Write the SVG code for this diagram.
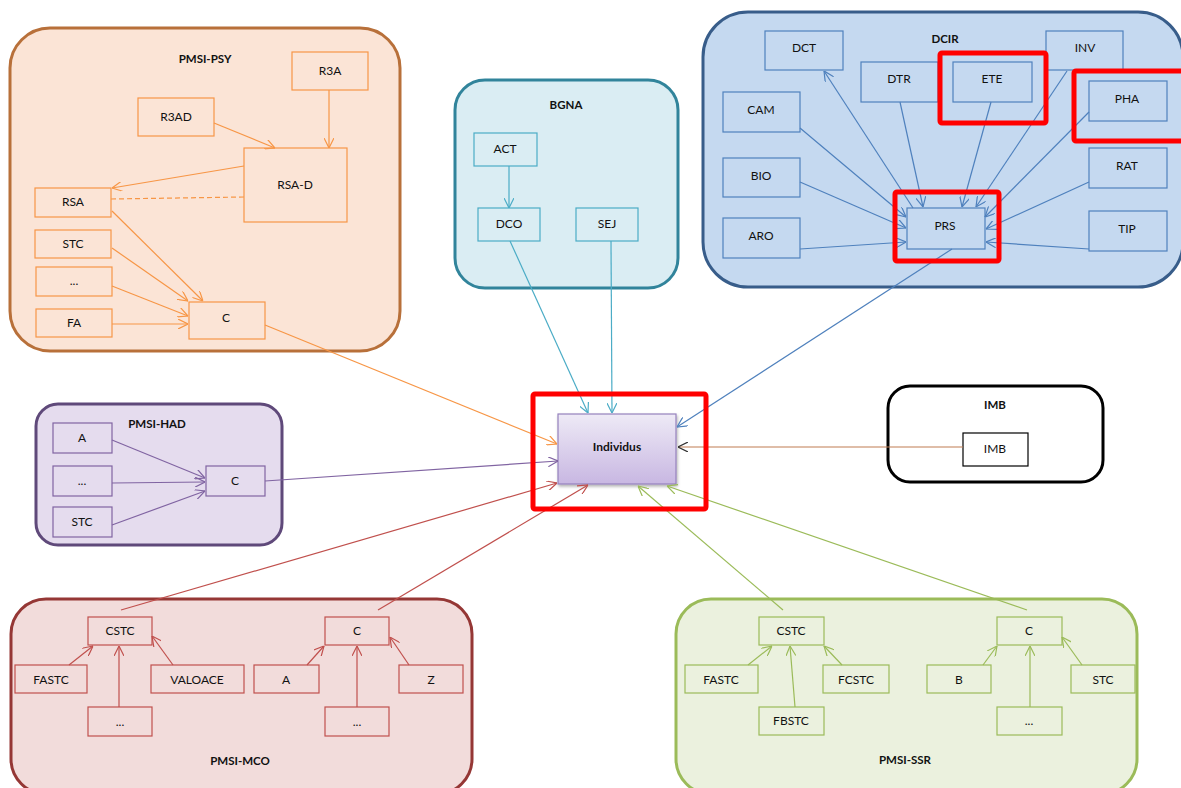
<svg xmlns="http://www.w3.org/2000/svg" width="1181" height="788" viewBox="0 0 1181 788">
  <style>
    text { font-family: Lato, "Open Sans", "Liberation Sans", sans-serif; font-size: 12px; fill: #111; text-anchor: middle; }
    .title { font-weight: bold; font-size: 11.5px; }
    .cont { stroke-width: 3; }
    .node { stroke-width: 1.2; }
    .psy .cont { fill: #fbe4d6; stroke: #b8703a; }
    .psy .node { fill: #fbe4d6; stroke: #f79646; }
    .bgna .cont { fill: #daedf3; stroke: #31849b; }
    .bgna .node { fill: #daedf3; stroke: #4bacc6; }
    .dcir .cont { fill: #c5d9f0; stroke: #385d8a; }
    .dcir .node { fill: #c5d9f0; stroke: #4f81bd; }
    .had .cont { fill: #e5dcee; stroke: #5f497a; }
    .had .node { fill: #e5dcee; stroke: #8064a2; }
    .mco .cont { fill: #f2dcdb; stroke: #953735; }
    .mco .node { fill: #f2dcdb; stroke: #c0504d; }
    .ssr .cont { fill: #ebf1de; stroke: #9bbb59; }
    .ssr .node { fill: #ebf1de; stroke: #9bbb59; }
    .imb .cont { fill: #ffffff; stroke: #000000; }
    .imb .node { fill: #ffffff; stroke: #000000; }
    .links path { fill: none; stroke-width: 1.2; }
    .l-psy { stroke: #f79646; marker-end: url(#a-psy); }
    .l-bgna { stroke: #4bacc6; marker-end: url(#a-bgna); }
    .l-dcir { stroke: #4f81bd; marker-end: url(#a-dcir); }
    .l-had { stroke: #8064a2; marker-end: url(#a-had); }
    .l-mco { stroke: #c0504d; marker-end: url(#a-mco); }
    .l-ssr { stroke: #9bbb59; marker-end: url(#a-ssr); }
    .l-imb { stroke: #c07d52; marker-end: url(#a-imb); }
    .hl { fill: none; stroke: #ff0000; stroke-width: 5; }
  </style>
  <defs>
    <marker id="a-psy" viewBox="0 0 10 10" refX="10" refY="5" markerWidth="10" markerHeight="10" markerUnits="userSpaceOnUse" orient="auto"><path d="M0,0 L10,5 L0,10" fill="none" stroke="#f79646" stroke-width="1.2"/></marker>
    <marker id="a-bgna" viewBox="0 0 10 10" refX="10" refY="5" markerWidth="10" markerHeight="10" markerUnits="userSpaceOnUse" orient="auto"><path d="M0,0 L10,5 L0,10" fill="none" stroke="#4bacc6" stroke-width="1.2"/></marker>
    <marker id="a-dcir" viewBox="0 0 10 10" refX="10" refY="5" markerWidth="10" markerHeight="10" markerUnits="userSpaceOnUse" orient="auto"><path d="M0,0 L10,5 L0,10" fill="none" stroke="#4f81bd" stroke-width="1.2"/></marker>
    <marker id="a-had" viewBox="0 0 10 10" refX="10" refY="5" markerWidth="10" markerHeight="10" markerUnits="userSpaceOnUse" orient="auto"><path d="M0,0 L10,5 L0,10" fill="none" stroke="#8064a2" stroke-width="1.2"/></marker>
    <marker id="a-mco" viewBox="0 0 10 10" refX="10" refY="5" markerWidth="10" markerHeight="10" markerUnits="userSpaceOnUse" orient="auto"><path d="M0,0 L10,5 L0,10" fill="none" stroke="#c0504d" stroke-width="1.2"/></marker>
    <marker id="a-ssr" viewBox="0 0 10 10" refX="10" refY="5" markerWidth="10" markerHeight="10" markerUnits="userSpaceOnUse" orient="auto"><path d="M0,0 L10,5 L0,10" fill="none" stroke="#9bbb59" stroke-width="1.2"/></marker>
    <marker id="a-imb" viewBox="0 0 10 10" refX="10" refY="5" markerWidth="10" markerHeight="10" markerUnits="userSpaceOnUse" orient="auto"><path d="M0,0 L10,5 L0,10" fill="none" stroke="#333333" stroke-width="1.2"/></marker>
    <linearGradient id="g-ind" x1="0" y1="0" x2="0" y2="1">
      <stop offset="0" stop-color="#eeeaf6"/>
      <stop offset="1" stop-color="#c8b7e2"/>
    </linearGradient>
    <filter id="shadow" x="-20%" y="-20%" width="140%" height="150%">
      <feDropShadow dx="1" dy="2" stdDeviation="1.5" flood-color="#000" flood-opacity="0.3"/>
    </filter>
  </defs>

  <!-- PMSI-PSY -->
  <g id="pmsi-psy" class="psy">
    <rect class="cont" x="10" y="28" width="390" height="323" rx="40"/>
    <text class="title" x="205" y="63">PMSI-PSY</text>
    <g id="psy-r3a"><rect class="node" x="292" y="52" width="76" height="38"/><text x="330" y="75">R3A</text></g>
    <g id="psy-r3ad"><rect class="node" x="138" y="98" width="76" height="38"/><text x="176" y="121">R3AD</text></g>
    <g id="psy-rsad"><rect class="node" x="244" y="148" width="103" height="74"/><text x="295" y="189">RSA-D</text></g>
    <g id="psy-rsa"><rect class="node" x="35" y="188" width="76" height="29"/><text x="73" y="206">RSA</text></g>
    <g id="psy-stc"><rect class="node" x="35" y="230" width="76" height="28"/><text x="73" y="248">STC</text></g>
    <g id="psy-etc"><rect class="node" x="36" y="267" width="76" height="29"/><text x="74" y="285">...</text></g>
    <g id="psy-fa"><rect class="node" x="36" y="309" width="76" height="28"/><text x="74" y="327">FA</text></g>
    <g id="psy-c"><rect class="node" x="189" y="302" width="76" height="37"/><text x="226" y="322">C</text></g>
  </g>

  <!-- BGNA -->
  <g id="bgna" class="bgna">
    <rect class="cont" x="455" y="80" width="223" height="208" rx="30"/>
    <text class="title" x="566" y="109">BGNA</text>
    <g id="bgna-act"><rect class="node" x="474" y="133" width="63" height="33"/><text x="505" y="153">ACT</text></g>
    <g id="bgna-dco"><rect class="node" x="478" y="208" width="62" height="33"/><text x="509" y="228">DCO</text></g>
    <g id="bgna-sej"><rect class="node" x="576" y="208" width="62" height="33"/><text x="607" y="228">SEJ</text></g>
  </g>

  <!-- DCIR -->
  <g id="dcir" class="dcir">
    <rect class="cont" x="703" y="12" width="480" height="275" rx="45"/>
    <text class="title" x="945" y="43">DCIR</text>
    <g id="dcir-dct"><rect class="node" x="765" y="31" width="78" height="39"/><text x="804" y="52">DCT</text></g>
    <g id="dcir-dtr"><rect class="node" x="861" y="62" width="77" height="40"/><text x="899" y="83">DTR</text></g>
    <g id="dcir-ete"><rect class="node" x="953" y="62" width="79" height="40"/><text x="992" y="83">ETE</text></g>
    <g id="dcir-inv"><rect class="node" x="1046" y="31" width="77" height="39"/><text x="1085" y="52">INV</text></g>
    <g id="dcir-pha"><rect class="node" x="1089" y="81" width="78" height="40"/><text x="1127" y="103">PHA</text></g>
    <g id="dcir-cam"><rect class="node" x="723" y="92" width="77" height="40"/><text x="761" y="114">CAM</text></g>
    <g id="dcir-bio"><rect class="node" x="723" y="158" width="77" height="39"/><text x="761" y="180">BIO</text></g>
    <g id="dcir-aro"><rect class="node" x="723" y="218" width="77" height="40"/><text x="761" y="240">ARO</text></g>
    <g id="dcir-rat"><rect class="node" x="1089" y="148" width="78" height="40"/><text x="1127" y="170">RAT</text></g>
    <g id="dcir-tip"><rect class="node" x="1089" y="211" width="78" height="40"/><text x="1127" y="233">TIP</text></g>
    <g id="dcir-prs"><rect class="node" x="907" y="208" width="78" height="41"/><text x="945" y="230">PRS</text></g>
  </g>

  <!-- PMSI-HAD -->
  <g id="pmsi-had" class="had">
    <rect class="cont" x="36" y="404" width="246" height="141" rx="22"/>
    <text class="title" x="157" y="428">PMSI-HAD</text>
    <g id="had-a"><rect class="node" x="53" y="423" width="59" height="30"/><text x="82" y="442">A</text></g>
    <g id="had-etc"><rect class="node" x="53" y="466" width="59" height="30"/><text x="82" y="485">...</text></g>
    <g id="had-stc"><rect class="node" x="53" y="507" width="59" height="30"/><text x="82" y="526">STC</text></g>
    <g id="had-c"><rect class="node" x="206" y="466" width="59" height="30"/><text x="235" y="485">C</text></g>
  </g>

  <!-- IMB -->
  <g id="imb" class="imb">
    <rect class="cont" x="888" y="386" width="215" height="96" rx="22"/>
    <text class="title" x="995" y="409">IMB</text>
    <g id="imb-imb"><rect class="node" x="963" y="433" width="65" height="33"/><text x="995" y="453">IMB</text></g>
  </g>

  <!-- PMSI-MCO -->
  <g id="pmsi-mco" class="mco">
    <rect class="cont" x="11" y="599" width="461" height="195" rx="35"/>
    <text class="title" x="240" y="765">PMSI-MCO</text>
    <g id="mco-cstc"><rect class="node" x="88" y="617" width="64" height="28"/><text x="120" y="635">CSTC</text></g>
    <g id="mco-fastc"><rect class="node" x="15" y="665" width="72" height="28"/><text x="51" y="684">FASTC</text></g>
    <g id="mco-valoace"><rect class="node" x="151" y="665" width="93" height="28"/><text x="197" y="684">VALOACE</text></g>
    <g id="mco-etc1"><rect class="node" x="88" y="707" width="64" height="29"/><text x="120" y="726">...</text></g>
    <g id="mco-c"><rect class="node" x="325" y="617" width="64" height="28"/><text x="357" y="635">C</text></g>
    <g id="mco-a"><rect class="node" x="254" y="665" width="65" height="28"/><text x="286" y="684">A</text></g>
    <g id="mco-z"><rect class="node" x="399" y="665" width="64" height="28"/><text x="431" y="684">Z</text></g>
    <g id="mco-etc2"><rect class="node" x="325" y="707" width="64" height="29"/><text x="357" y="726">...</text></g>
  </g>

  <!-- PMSI-SSR -->
  <g id="pmsi-ssr" class="ssr">
    <rect class="cont" x="676" y="599" width="461" height="195" rx="35"/>
    <text class="title" x="905" y="764">PMSI-SSR</text>
    <g id="ssr-cstc"><rect class="node" x="759" y="617" width="65" height="28"/><text x="791" y="635">CSTC</text></g>
    <g id="ssr-fastc"><rect class="node" x="685" y="665" width="73" height="28"/><text x="721" y="684">FASTC</text></g>
    <g id="ssr-fcstc"><rect class="node" x="823" y="665" width="66" height="28"/><text x="856" y="684">FCSTC</text></g>
    <g id="ssr-fbstc"><rect class="node" x="759" y="707" width="65" height="28"/><text x="791" y="725">FBSTC</text></g>
    <g id="ssr-c"><rect class="node" x="997" y="617" width="65" height="28"/><text x="1029" y="635">C</text></g>
    <g id="ssr-b"><rect class="node" x="927" y="665" width="64" height="28"/><text x="959" y="684">B</text></g>
    <g id="ssr-stc"><rect class="node" x="1071" y="665" width="64" height="28"/><text x="1103" y="684">STC</text></g>
    <g id="ssr-etc"><rect class="node" x="997" y="707" width="65" height="28"/><text x="1029" y="725">...</text></g>
  </g>

  <!-- Individus -->
  <g id="individus">
    <rect x="558" y="414" width="118" height="70" fill="url(#g-ind)" stroke="#9581bd" stroke-width="1.2" filter="url(#shadow)"/>
    <text x="617" y="451" font-weight="bold">Individus</text>
  </g>

  <!-- Connectors -->
  <g id="connectors" class="links">
    <path class="l-psy" d="M214,123 L275,148"/>
    <path class="l-psy" d="M329,90 L329,148"/>
    <path class="l-psy" d="M244,166 L112,188"/>
    <path d="M111,199 L244,197" stroke="#f79646" stroke-dasharray="5,3"/>
    <path class="l-psy" d="M112,211 L203,301"/>
    <path class="l-psy" d="M112,248 L188,301"/>
    <path class="l-psy" d="M112,286 L188,316"/>
    <path class="l-psy" d="M112,324 L188,324"/>
    <path class="l-psy" d="M265,325 L557,444"/>

    <path class="l-bgna" d="M509,166 L509,208"/>
    <path class="l-bgna" d="M510,241 L588,413"/>
    <path class="l-bgna" d="M611,241 L612,413"/>

    <path class="l-dcir" d="M913,208 L824,71"/>
    <path class="l-dcir" d="M900,102 L923,207"/>
    <path class="l-dcir" d="M991,102 L962,207"/>
    <path class="l-dcir" d="M1067,71 L976,207"/>
    <path class="l-dcir" d="M1089,112 L985,217"/>
    <path class="l-dcir" d="M1089,182 L986,229"/>
    <path class="l-dcir" d="M1089,249 L986,242"/>
    <path class="l-dcir" d="M800,128 L906,217"/>
    <path class="l-dcir" d="M800,182 L906,228"/>
    <path class="l-dcir" d="M800,249 L906,242"/>
    <path class="l-dcir" d="M952,249 L677,427"/>

    <path class="l-had" d="M112,440 L205,478"/>
    <path class="l-had" d="M112,483 L205,482"/>
    <path class="l-had" d="M112,525 L205,491"/>
    <path class="l-had" d="M265,481 L558,461"/>

    <path class="l-imb" d="M963,447 L678,447"/>

    <path class="l-mco" d="M69,665 L93,646"/>
    <path class="l-mco" d="M119,707 L119,646"/>
    <path class="l-mco" d="M173,665 L152,636"/>
    <path class="l-mco" d="M307,665 L324,646"/>
    <path class="l-mco" d="M357,707 L357,646"/>
    <path class="l-mco" d="M409,665 L390,637"/>
    <path class="l-mco" d="M121,610 L557,483"/>
    <path class="l-mco" d="M378,610 L588,485"/>

    <path class="l-ssr" d="M748,665 L772,646"/>
    <path class="l-ssr" d="M795,707 L790,646"/>
    <path class="l-ssr" d="M842,665 L824,646"/>
    <path class="l-ssr" d="M983,665 L997,646"/>
    <path class="l-ssr" d="M1030,707 L1030,646"/>
    <path class="l-ssr" d="M1082,665 L1062,637"/>
    <path class="l-ssr" d="M783,610 L638,486"/>
    <path class="l-ssr" d="M1027,610 L667,486"/>
  </g>

  <!-- Highlight frames -->
  <g id="highlights">
    <rect class="hl" x="940" y="53" width="106" height="70" rx="2"/>
    <rect class="hl" x="1074" y="71" width="110" height="70" rx="2"/>
    <rect class="hl" x="895" y="192" width="104" height="69" rx="2"/>
    <rect class="hl" x="533" y="394" width="173" height="115" rx="2"/>
  </g>
</svg>
